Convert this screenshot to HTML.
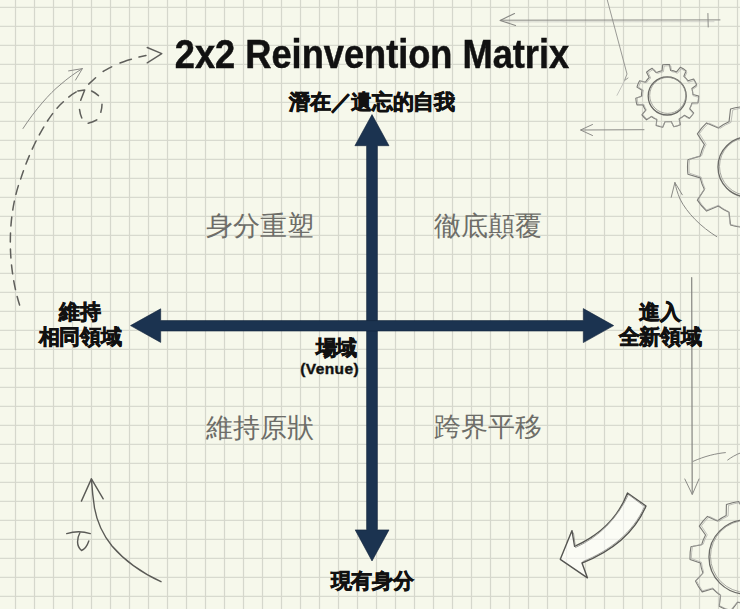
<!DOCTYPE html>
<html lang="zh-Hant">
<head>
<meta charset="utf-8">
<style>
html,body{margin:0;padding:0;}
body{width:740px;height:609px;overflow:hidden;background:#f6f8eb;font-family:"Liberation Sans",sans-serif;}
#wrap{position:relative;width:740px;height:609px;overflow:hidden;}
svg{position:absolute;left:0;top:0;}
.t{position:absolute;white-space:nowrap;line-height:1;}
.title{left:0;width:744px;text-align:center;top:34px;font-size:40px;font-weight:bold;color:#111;letter-spacing:0px;transform:scaleX(0.905);transform-origin:372px 0;-webkit-text-stroke:0.5px #111;}
.ax{font-weight:bold;color:#111;font-size:21px;letter-spacing:-0.3px;text-align:center;-webkit-text-stroke:0.7px #111;}
.q{color:#6d6d68;font-size:26.5px;text-align:center;width:160px;}
</style>
</head>
<body>
<div id="wrap">
<svg id="grid" width="740" height="609" viewBox="0 0 740 609" style="filter:blur(0.35px)"><path d="M0 7.35H740M0 26.35H740M0 45.35H740M0 64.35H740M0 83.35H740M0 102.35H740M0 121.35H740M0 140.35H740M0 159.35H740M0 178.35H740M0 197.35H740M0 216.35H740M0 235.35H740M0 254.35H740M0 273.35H740M0 292.35H740M0 311.35H740M0 330.35H740M0 349.35H740M0 368.35H740M0 387.35H740M0 406.35H740M0 425.35H740M0 444.35H740M0 463.35H740M0 482.35H740M0 501.35H740M0 520.35H740M0 539.35H740M0 558.35H740M0 577.35H740M0 596.35H740" stroke="#d8dacf" stroke-width="1.4" fill="none"/><path d="M15.50 0V609M34.50 0V609M53.50 0V609M72.50 0V609M91.50 0V609M110.50 0V609M129.50 0V609M148.50 0V609M167.50 0V609M186.50 0V609M205.50 0V609M224.50 0V609M243.50 0V609M262.50 0V609M281.50 0V609M300.50 0V609M319.50 0V609M338.50 0V609M357.50 0V609M376.50 0V609M395.50 0V609M414.50 0V609M433.50 0V609M452.50 0V609M471.50 0V609M490.50 0V609M509.50 0V609M528.50 0V609M547.50 0V609M566.50 0V609M585.50 0V609M604.50 0V609M623.50 0V609M642.50 0V609M661.50 0V609M680.50 0V609M699.50 0V609M718.50 0V609M737.50 0V609" stroke="#d5d7cc" stroke-width="1.2" fill="none"/></svg>

<svg id="sketch" width="740" height="609" viewBox="0 0 740 609" fill="none" stroke-linecap="round" stroke-linejoin="round">
  <!-- top-left solid thin arrow -->
  <path d="M23 128.5 C35 110 50 93 60 85 C68 78 75 73 82.4 68.6" stroke="#8c8c88" stroke-width="1"/>
  <path d="M68.6 70.9 L82.4 68.6 L75.5 80.1" stroke="#8c8c88" stroke-width="1"/>
  <!-- top-left dashed arc -->
  <path d="M19.6 305 C8 268 6 218 21 178 C30 150 46 118 62 103 C68 97 74 93 78 91" stroke="#5f5f5b" stroke-width="1.5" stroke-dasharray="9 7"/>
  <path d="M88.7 84.1 L95.6 77.8 M103.1 71.5 C106 70 109 68 111.7 66.9 M120 63 C124 61.5 128 60 131.4 59.2 M139 57 L146 55.5" stroke="#5f5f5b" stroke-width="1.5"/>
  <path d="M147.2 47.5 L161.8 53.6 L147.2 62.8" stroke="#5f5f5b" stroke-width="1.4"/>
  <path d="M77.8 91 L84.7 89.9 L80.7 100.2 M79.5 109.4 C79.8 112 80.5 115 81.8 118 M88.2 123.2 C91 122.5 94 121.5 96.8 119.8 M100.8 112.3 C101.5 110 102 107 102 104.3 M98.5 95.6 C96 93.5 94 92 91.6 91" stroke="#5f5f5b" stroke-width="1.5"/>

  <!-- top right horizontal arrow -->
  <path d="M501 20.2 L720 19.9" stroke="#8a8a86" stroke-width="1"/>
  <path d="M506 21.9 L714 21.7" stroke="#bcbcb8" stroke-width="0.6"/>
  <path d="M514.5 13.6 L500.1 20.4 L515.5 25.5" stroke="#888884" stroke-width="1.1"/>
  <path d="M707.9 13.5 L708.2 27" stroke="#8c8c88" stroke-width="1"/>
  <!-- diagonal line -->
  <path d="M607.3 0 L627 74 L624.5 80.5 L628 78" stroke="#8f8f8b" stroke-width="0.9"/>
  <path d="M624.5 81 L617 95.3" stroke="#b8b8b4" stroke-width="0.8"/>
  <!-- second left arrow -->
  <path d="M581 130 L644 129.7" stroke="#8c8c88" stroke-width="1"/>
  <path d="M592.5 124.5 L580.5 130 L592.5 135.5" stroke="#8c8c88" stroke-width="1"/>

  <!-- large gear curved arrow -->
  <path d="M716.8 236.7 C701 227 687 213 680 199 C677.5 193 676 188 674.9 182.5" stroke="#8a8a86" stroke-width="1"/>
  <path d="M671.2 197.3 L674.9 182.5 L682.3 194.8" stroke="#8a8a86" stroke-width="1"/>

  <!-- right vertical arrow -->
  <path d="M691.7 277.6 L692.2 494" stroke="#858581" stroke-width="1.2"/>
  <path d="M684.8 479 L692.3 494.5 L699 479" stroke="#8c8c88" stroke-width="1"/>

  <!-- arc near bottom gear -->
  <path d="M693 461.4 C705 456 716 453.5 725.4 452.6" stroke="#8c8c88" stroke-width="1"/>
  <path d="M727.7 460 C731 457.5 736 454.5 741 452.7" stroke="#8c8c88" stroke-width="1"/>

  <!-- bottom-left curved arrow -->
  <path d="M161 581.7 C140 572 124 560 112 546 C103 535 97 522 94.5 508 C93 498 92 488 91.4 478.9" stroke="#5a5a56" stroke-width="1.4"/>
  <path d="M81.4 501.1 L91.4 478.9 L103.2 498.8" stroke="#5a5a56" stroke-width="1.4"/>
  <path d="M66.7 533.6 C72 532 82 531 90.3 533.6 M80 532.5 C77 538 76 546 81.5 550.5 C85 549 87.5 545 88.8 541" stroke="#5a5a56" stroke-width="1.4"/>

  <!-- curved outlined arrow bottom right -->
  <path d="M627.5 493 L646 506 C634 534 610 552 582 563 L587.4 577.8 L560.3 559.3 L572 530.6 L574.6 546.3 C598 536 618 518 627.5 493 Z" fill="rgba(255,255,255,0.5)" stroke="#555551" stroke-width="1.4"/>
  <path d="M628.5 494.5 L644.5 506.5 C633 533 609 551 583 561.5 M573.5 533 L575.5 547.5 C599 537 617 519 628.5 494.5" stroke="#8a8a86" stroke-width="0.8"/>
</svg>

<svg id="gears" width="740" height="609" viewBox="0 0 740 609" fill="none"><path d="M662.06 70.72L662.70 64.82A31.5 31.5 0 0 1 669.52 64.59L670.56 70.42A25.8 25.8 0 0 1 676.55 71.95L680.27 67.34A31.5 31.5 0 0 1 686.13 70.82L683.86 76.30A25.8 25.8 0 0 1 688.06 80.82L693.69 78.95A31.5 31.5 0 0 1 696.74 85.06L691.87 88.43A25.8 25.8 0 0 1 692.96 94.51L698.70 95.98A31.5 31.5 0 0 1 697.97 102.76L692.04 102.97A25.8 25.8 0 0 1 689.67 108.67L693.71 113.01A31.5 31.5 0 0 1 689.42 118.32L684.33 115.29A25.8 25.8 0 0 1 679.25 118.81L680.30 124.65A31.5 31.5 0 0 1 673.83 126.79L671.18 121.49A25.8 25.8 0 0 1 665.01 121.71L662.74 127.18A31.5 31.5 0 0 1 656.13 125.49L656.77 119.60A25.8 25.8 0 0 1 651.46 116.44L646.59 119.82A31.5 31.5 0 0 1 641.94 114.82L645.67 110.21A25.8 25.8 0 0 1 642.91 104.69L636.98 104.89A31.5 31.5 0 0 1 635.78 98.18L641.40 96.31A25.8 25.8 0 0 1 642.07 90.17L636.97 87.14A31.5 31.5 0 0 1 639.59 80.84L645.33 82.31A25.8 25.8 0 0 1 649.21 77.51L646.56 72.21A31.5 31.5 0 0 1 652.17 68.32L656.20 72.66A25.8 25.8 0 0 1 662.06 70.72Z" stroke="#7a7a76" stroke-width="1.1" stroke-linejoin="round"/><path d="M663.40 71.69L664.17 66.02A30.7 30.7 0 0 1 670.82 65.95L671.71 71.60A25.2 25.2 0 0 1 677.51 73.25L681.23 68.89A30.7 30.7 0 0 1 686.86 72.43L684.55 77.67A25.2 25.2 0 0 1 688.54 82.19L694.02 80.54A30.7 30.7 0 0 1 696.85 86.56L692.07 89.71A25.2 25.2 0 0 1 692.99 95.67L698.49 97.25A30.7 30.7 0 0 1 697.61 103.84L691.89 103.91A25.2 25.2 0 0 1 689.43 109.42L693.21 113.72A30.7 30.7 0 0 1 688.91 118.79L684.05 115.76A25.2 25.2 0 0 1 679.01 119.07L679.87 124.73A30.7 30.7 0 0 1 673.51 126.66L671.06 121.49A25.2 25.2 0 0 1 665.03 121.55L662.69 126.77A30.7 30.7 0 0 1 656.29 124.96L657.04 119.29A25.2 25.2 0 0 1 651.93 116.08L647.14 119.20A30.7 30.7 0 0 1 642.73 114.22L646.43 109.85A25.2 25.2 0 0 1 643.87 104.39L638.14 104.43A30.7 30.7 0 0 1 637.13 97.86L642.60 96.17A25.2 25.2 0 0 1 643.40 90.20L638.56 87.14A30.7 30.7 0 0 1 641.27 81.06L646.78 82.60A25.2 25.2 0 0 1 650.68 78.01L648.27 72.82A30.7 30.7 0 0 1 653.83 69.16L657.63 73.44A25.2 25.2 0 0 1 663.40 71.69Z" stroke="#a8a8a4" stroke-width="0.7" stroke-linejoin="round"/><circle cx="667.2" cy="96" r="19" stroke="#6a6a66" stroke-width="1.3"/><circle cx="667.7" cy="95.4" r="18" stroke="#94948f" stroke-width="0.8"/><path d="M700.22 177.86L687.93 174.16A60.5 60.5 0 0 1 687.93 159.84L700.22 156.14A49 49 0 0 1 704.42 144.60L697.38 133.87A60.5 60.5 0 0 1 706.58 122.90L718.37 127.97A49 49 0 0 1 729.01 121.83L730.51 109.08A60.5 60.5 0 0 1 744.62 106.59L750.39 118.06A49 49 0 0 1 762.49 120.19L771.83 111.39A60.5 60.5 0 0 1 784.24 118.56L781.29 131.05A49 49 0 0 1 789.19 140.46L802.00 139.72A60.5 60.5 0 0 1 806.90 153.18L796.61 160.86A49 49 0 0 1 796.61 173.14L806.90 180.82A60.5 60.5 0 0 1 802.00 194.28L789.19 193.54A49 49 0 0 1 781.29 202.95L784.24 215.44A60.5 60.5 0 0 1 771.83 222.61L762.49 213.81A49 49 0 0 1 750.39 215.94L744.62 227.41A60.5 60.5 0 0 1 730.51 224.92L729.01 212.17A49 49 0 0 1 718.37 206.03L706.58 211.10A60.5 60.5 0 0 1 697.38 200.13L704.42 189.40A49 49 0 0 1 700.22 177.86Z" stroke="#7a7a76" stroke-width="1.1" stroke-linejoin="round"/><path d="M701.15 177.04L689.16 173.08A59.7 59.7 0 0 1 689.52 158.95L701.69 155.60A48.4 48.4 0 0 1 706.12 144.31L699.48 133.57A59.7 59.7 0 0 1 708.83 122.97L720.31 128.23A48.4 48.4 0 0 1 730.97 122.43L732.78 109.93A59.7 59.7 0 0 1 746.76 107.83L752.17 119.23A48.4 48.4 0 0 1 764.06 121.64L773.48 113.23A59.7 59.7 0 0 1 785.55 120.61L782.36 132.82A48.4 48.4 0 0 1 789.93 142.31L802.54 141.92A59.7 59.7 0 0 1 807.05 155.32L796.75 162.64A48.4 48.4 0 0 1 796.45 174.76L806.36 182.58A59.7 59.7 0 0 1 801.20 195.74L788.62 194.73A48.4 48.4 0 0 1 780.59 203.82L783.16 216.18A59.7 59.7 0 0 1 770.74 222.94L761.75 214.08A48.4 48.4 0 0 1 749.76 215.89L743.78 227.00A59.7 59.7 0 0 1 729.92 224.20L728.73 211.64A48.4 48.4 0 0 1 718.38 205.31L706.66 209.98A59.7 59.7 0 0 1 697.84 198.93L705.01 188.54A48.4 48.4 0 0 1 701.15 177.04Z" stroke="#a8a8a4" stroke-width="0.7" stroke-linejoin="round"/><circle cx="748" cy="167" r="30" stroke="#6a6a66" stroke-width="1.3"/><circle cx="748.5" cy="166.4" r="29" stroke="#94948f" stroke-width="0.8"/><path d="M700.40 563.02L690.05 559.42A56 56 0 0 1 690.93 546.81L701.68 544.69A46 46 0 0 1 705.57 535.06L699.31 526.08A56 56 0 0 1 707.44 516.39L717.38 520.99A46 46 0 0 1 726.18 515.49L726.41 504.54A56 56 0 0 1 738.67 501.48L744.01 511.04A46 46 0 0 1 754.37 511.77L760.98 503.04A56 56 0 0 1 772.70 507.78L771.40 518.65A46 46 0 0 1 779.36 525.32L789.84 522.15A56 56 0 0 1 796.54 532.87L789.09 540.91A46 46 0 0 1 791.60 550.98L801.95 554.58A56 56 0 0 1 801.07 567.19L790.32 569.31A46 46 0 0 1 786.43 578.94L792.69 587.92A56 56 0 0 1 784.56 597.61L774.62 593.01A46 46 0 0 1 765.82 598.51L765.59 609.46A56 56 0 0 1 753.33 612.52L747.99 602.96A46 46 0 0 1 737.63 602.23L731.02 610.96A56 56 0 0 1 719.30 606.22L720.60 595.35A46 46 0 0 1 712.64 588.68L702.16 591.85A56 56 0 0 1 695.46 581.13L702.91 573.09A46 46 0 0 1 700.40 563.02Z" stroke="#7a7a76" stroke-width="1.1" stroke-linejoin="round"/><path d="M701.46 562.31L691.41 558.51A55.2 55.2 0 0 1 692.59 546.11L703.17 544.26A45.4 45.4 0 0 1 707.25 534.86L701.36 525.88A55.2 55.2 0 0 1 709.60 516.53L719.25 521.26A45.4 45.4 0 0 1 728.07 516.05L728.59 505.32A55.2 55.2 0 0 1 740.75 502.61L745.77 512.11A45.4 45.4 0 0 1 755.97 513.08L762.70 504.70A55.2 55.2 0 0 1 774.13 509.65L772.61 520.29A45.4 45.4 0 0 1 780.29 527.07L790.66 524.24A55.2 55.2 0 0 1 796.99 534.97L789.51 542.68A45.4 45.4 0 0 1 791.74 552.69L801.79 556.49A55.2 55.2 0 0 1 800.61 568.89L790.03 570.74A45.4 45.4 0 0 1 785.95 580.14L791.84 589.12A55.2 55.2 0 0 1 783.60 598.47L773.95 593.74A45.4 45.4 0 0 1 765.13 598.95L764.61 609.68A55.2 55.2 0 0 1 752.45 612.39L747.43 602.89A45.4 45.4 0 0 1 737.23 601.92L730.50 610.30A55.2 55.2 0 0 1 719.07 605.35L720.59 594.71A45.4 45.4 0 0 1 712.91 587.93L702.54 590.76A55.2 55.2 0 0 1 696.21 580.03L703.69 572.32A45.4 45.4 0 0 1 701.46 562.31Z" stroke="#a8a8a4" stroke-width="0.7" stroke-linejoin="round"/><circle cx="746" cy="557" r="37" stroke="#6a6a66" stroke-width="1.3"/><circle cx="746.5" cy="556.4" r="36" stroke="#94948f" stroke-width="0.8"/></svg>

<svg id="axes" width="740" height="609" viewBox="0 0 740 609">
  <g fill="#1b3350" stroke="#12243a" stroke-width="0.6" stroke-linejoin="miter">
    <!-- vertical -->
    <path d="M372 114.6 L389 145.7 L377.4 145.7 L377.4 529.9 L389 529.9 L372 561 L355.2 529.9 L366.6 529.9 L366.6 145.7 L354.9 145.7 Z"/>
    <!-- horizontal -->
    <path d="M130.5 325.6 L160.7 308.8 L160.7 320.6 L583.3 320.6 L583.3 308.6 L613.7 325.6 L583.3 342.6 L583.3 331 L160.7 331 L160.7 342.4 Z"/>
  </g>
</svg>

<div class="t title">2x2 Reinvention Matrix</div>
<div class="t ax" style="left:252px;width:240px;top:91px;">潛在／遺忘的自我</div>
<div class="t ax" style="left:0;width:160px;top:298.5px;line-height:25.5px;">維持<br>相同領域</div>
<div class="t ax" style="left:580px;width:160px;top:298.5px;line-height:25.5px;">進入<br>全新領域</div>
<div class="t ax" style="left:252px;width:240px;top:570px;">現有身分</div>
<div class="t ax" style="left:257px;width:100px;top:337px;text-align:right;">場域</div>
<div class="t" style="left:258px;width:101px;top:361px;text-align:right;font-weight:bold;font-size:15.5px;letter-spacing:0.4px;color:#111;-webkit-text-stroke:0.4px #111;">(Venue)</div>

<div class="t q" style="left:180px;top:213px;">身分重塑</div>
<div class="t q" style="left:407.5px;top:212.5px;">徹底顛覆</div>
<div class="t q" style="left:180px;top:414.5px;">維持原狀</div>
<div class="t q" style="left:408px;top:414px;">跨界平移</div>
</div>
</body>
</html>
